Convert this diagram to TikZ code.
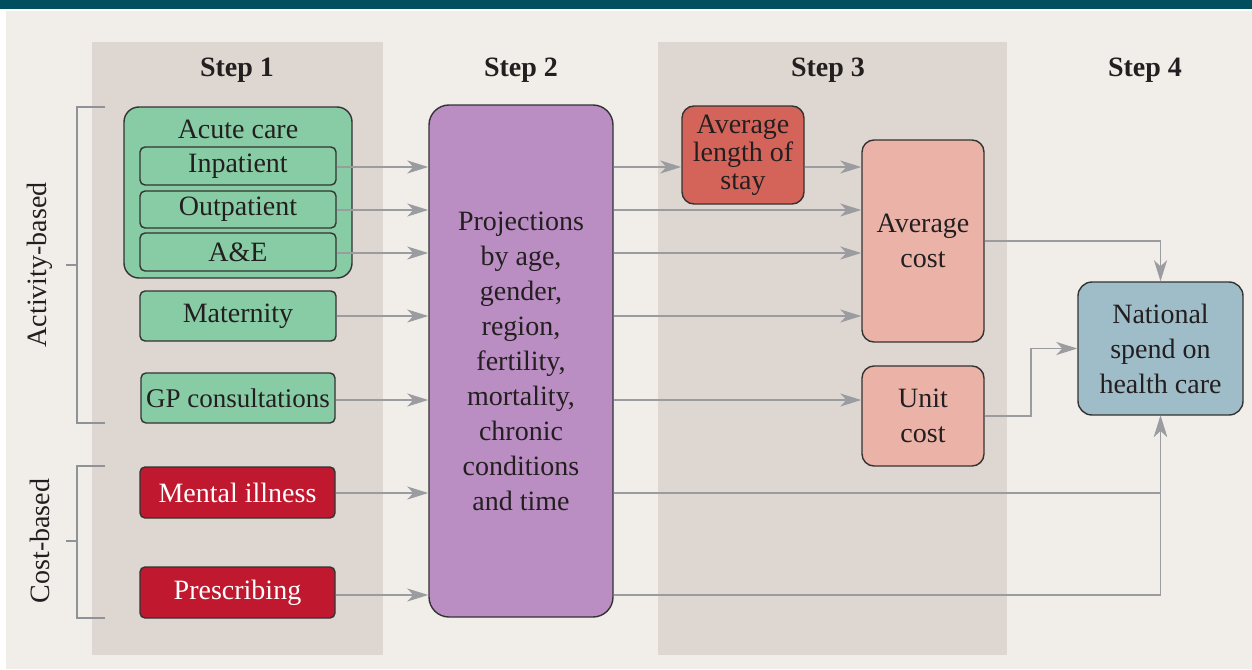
\documentclass[tikz,border=0pt]{standalone}
\usepackage{fontspec}
\setmainfont{Liberation Serif}
\usetikzlibrary{arrows.meta,calc}
\definecolor{teal}{HTML}{004E5E}
\definecolor{bgbeige}{HTML}{F1EEE9}
\definecolor{colshade}{HTML}{DED7D1}
\definecolor{gfill}{HTML}{88CCA5}
\definecolor{pfill}{HTML}{BB8EC3}
\definecolor{rfill}{HTML}{C0192F}
\definecolor{dfill}{HTML}{D4645A}
\definecolor{sfill}{HTML}{EBB3A8}
\definecolor{bfill}{HTML}{9FBDC8}
\definecolor{boxline}{HTML}{333333}
\definecolor{txt}{HTML}{231F20}
\definecolor{arrgrey}{HTML}{9A9CA0}
\definecolor{brkgrey}{HTML}{8F9296}
\begin{document}
\begin{tikzpicture}[x=1pt,y=-1pt,
  box/.style={draw=boxline, line width=1.4pt, rounded corners=5pt, inner sep=0pt, align=center, text=txt, font=\fontsize{28}{35}\selectfont},
  gbox/.style={box, fill=gfill},
  rbox/.style={box, fill=rfill, text=white},
  sbox/.style={box, fill=sfill, rounded corners=12pt},
  conn/.style={draw=arrgrey, line width=1.6pt, -{Stealth[length=21pt,width=13pt,inset=6pt]}},
  brk/.style={draw=brkgrey, line width=1.3pt},
  stephead/.style={font=\fontsize{28}{34}\bfseries\selectfont, text=txt},
  sidelbl/.style={font=\fontsize{28}{34}\selectfont, text=txt, rotate=90}
]
\useasboundingbox (0,0) rectangle (1252,669);
% background
\fill[white] (0,0) rectangle (1252,669);
\fill[teal] (0,0) rectangle (1252,9);
\fill[bgbeige] (6,11) rectangle (1252,669);
\fill[colshade] (92,42) rectangle (383,655);
\fill[colshade] (658,42) rectangle (1007,655);
% step headers
\node[stephead] (s1) at (237,70) {Step 1};
\node[stephead] (s2) at (521,70) {Step 2};
\node[stephead] (s3) at (828,70) {Step 3};
\node[stephead] (s4) at (1145,70) {Step 4};
% brackets
\draw[brk] (105,107) -- (77,107) -- (77,423) -- (105,423);
\draw[brk] (66,265) -- (77,265);
\draw[brk] (105,466) -- (77,466) -- (77,618) -- (105,618);
\draw[brk] (66,541) -- (77,541);
\node[sidelbl] (actlbl) at (40,265) {Activity-based};
\node[sidelbl] (costlbl) at (40,541) {Cost-based};
% step 1
\node[gbox, rounded corners=15pt, minimum width=228pt, minimum height=171pt] (acute) at (238,192.5) {};
\node[text=txt, font=\fontsize{28}{35}\selectfont] (acutelbl) at (238,129) {Acute care};
\node[gbox, minimum width=196pt, minimum height=38pt] (inpat) at (238,166) {Inpatient};
\node[gbox, minimum width=196pt, minimum height=37pt] (outpat) at (238,209.5) {Outpatient};
\node[gbox, minimum width=196pt, minimum height=38pt] (ae) at (238,252) {A\&E};
\node[gbox, minimum width=196pt, minimum height=50pt] (mat) at (238,316) {Maternity};
\node[gbox, minimum width=194pt, minimum height=50pt, font=\fontsize{27}{35}\selectfont] (gp) at (238,398) {GP consultations};
\node[rbox, minimum width=195pt, minimum height=51pt] (mental) at (237.5,492.5) {Mental illness};
\node[rbox, minimum width=195pt, minimum height=51pt] (presc) at (237.5,592.5) {Prescribing};
% step 2
\node[box, fill=pfill, rounded corners=20pt, minimum width=184pt, minimum height=512pt] (proj) at (521,361)
  {Projections\\by age,\\gender,\\region,\\fertility,\\mortality,\\chronic\\conditions\\and time};
% step 3
\node[box, fill=dfill, rounded corners=12pt, minimum width=122pt, minimum height=98pt, font=\fontsize{28}{28}\selectfont] (alos) at (743,155) {Average\\length of\\stay};
\node[sbox, minimum width=122pt, minimum height=202pt] (avg) at (923,241) {Average\\cost};
\node[sbox, minimum width=122pt, minimum height=100pt] (unit) at (923,416) {Unit\\cost};
% step 4
\node[box, fill=bfill, rounded corners=14pt, minimum width=165pt, minimum height=133pt] (nat) at (1160.5,348.5) {National\\spend on\\health care};
% row coordinates
\coordinate (r1) at (0,167);
\coordinate (r2) at (0,210);
\coordinate (r3) at (0,253);
\coordinate (r4) at (0,316);
\coordinate (r5) at (0,400);
\coordinate (r6) at (0,493);
\coordinate (r7) at (0,595);
% step1 -> step2
\draw[conn] (inpat.east |- r1) -- (proj.west |- r1);
\draw[conn] (outpat.east |- r2) -- (proj.west |- r2);
\draw[conn] (ae.east |- r3) -- (proj.west |- r3);
\draw[conn] (mat.east |- r4) -- (proj.west |- r4);
\draw[conn] (gp.east |- r5) -- (proj.west |- r5);
\draw[conn] (mental.east |- r6) -- (proj.west |- r6);
\draw[conn] (presc.east |- r7) -- (proj.west |- r7);
% step2 -> step3
\draw[conn] (proj.east |- r1) -- (alos.west |- r1);
\draw[conn] (alos.east |- r1) -- (avg.west |- r1);
\draw[conn] (proj.east |- r2) -- (avg.west |- r2);
\draw[conn] (proj.east |- r3) -- (avg.west |- r3);
\draw[conn] (proj.east |- r4) -- (avg.west |- r4);
\draw[conn] (proj.east |- r5) -- (unit.west |- r5);
% to step 4
\draw[conn] (proj.east |- r6) -| (nat.south);
\draw[conn] (proj.east |- r7) -| (nat.south);
\draw[conn] (avg.east) -| (nat.north);
\coordinate (uc) at (1031,416);
\draw[conn] (unit.east) -- (uc) |- (nat.west);
\end{tikzpicture}
\end{document}
